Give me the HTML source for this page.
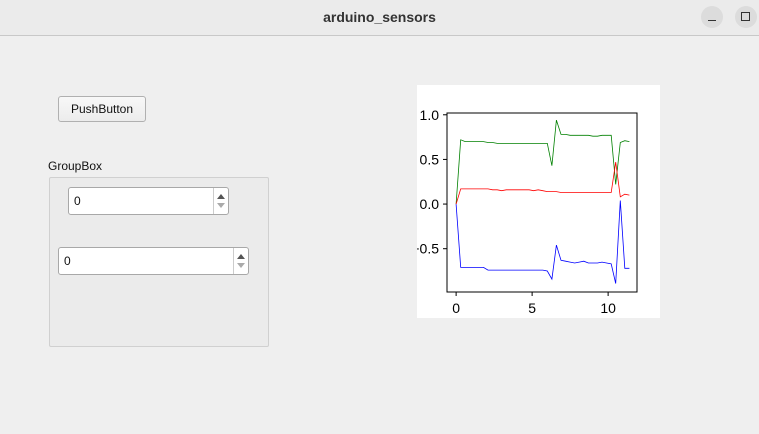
<!DOCTYPE html>
<html><head><meta charset="utf-8">
<style>
body{margin:0;width:759px;height:434px;background:#efefef;font-family:"Liberation Sans","DejaVu Sans",sans-serif;position:relative;overflow:hidden}
.abs{position:absolute}
#titlebar{left:0;top:0;width:759px;height:35px;background:#ebebeb;border-bottom:1px solid #c8c8c8}
#title{left:0;width:759px;top:9px;text-align:center;font-size:14px;font-weight:bold;color:#333}
.wbtn{width:22px;height:22px;border-radius:50%;background:#dcdcdc;top:6px}
#pushbtn{left:58px;top:96px;width:86px;height:24px;border:1px solid #b0b0b0;border-radius:3px;background:linear-gradient(#f8f8f8,#ececec);font-size:12px;text-align:center;line-height:24px;color:#111}
#gblabel{left:48px;top:159px;font-size:12px;color:#111}
#groupbox{left:49px;top:177px;width:218px;height:168px;border:1px solid #d0d0d0;border-radius:2px;background:#ebebeb}
.spin{background:#fff;border:1px solid #a8a8a8;border-radius:3px;height:26px;font-size:12px;color:#111}
.spin .v{position:absolute;left:5px;top:6px}
.spin .arr{position:absolute;right:0;top:0;width:14px;height:26px;border-left:1px solid #ccc}
.up{position:absolute;left:3px;top:6px;width:0;height:0;border-left:4px solid transparent;border-right:4px solid transparent;border-bottom:5px solid #555}
.dn{position:absolute;left:3px;top:15px;width:0;height:0;border-left:4px solid transparent;border-right:4px solid transparent;border-top:5px solid #aaa}
</style></head><body>
<div id="titlebar" class="abs">
 <div id="title" class="abs">arduino_sensors</div>
 <div class="abs wbtn" style="left:701px"><div class="abs" style="left:7px;top:14px;width:8px;height:1px;background:#333"></div></div>
 <div class="abs wbtn" style="left:735px"><div class="abs" style="left:6px;top:6px;width:7px;height:7px;border:1px solid #333"></div></div>
</div>
<div id="pushbtn" class="abs">PushButton</div>
<div id="gblabel" class="abs">GroupBox</div>
<div id="groupbox" class="abs"></div>
<div class="abs spin" style="left:68px;top:187px;width:159px"><span class="v">0</span><div class="arr"><div class="up"></div><div class="dn"></div></div></div>
<div class="abs spin" style="left:58px;top:247px;width:189px"><span class="v">0</span><div class="arr"><div class="up"></div><div class="dn"></div></div></div>
<svg class="abs" style="left:417px;top:85px" width="243" height="233">
 <rect width="243" height="233" fill="#fff"/>
 <g id="plot"></g>
</svg>
<script>
const green=[0,0.72,0.70,0.70,0.70,0.70,0.70,0.69,0.69,0.68,0.68,0.68,0.68,0.68,0.68,0.68,0.68,0.68,0.68,0.68,0.68,0.43,0.94,0.78,0.78,0.77,0.77,0.77,0.77,0.77,0.76,0.76,0.77,0.77,0.77,0.22,0.69,0.71,0.70];
const red=[0,0.17,0.17,0.17,0.17,0.17,0.17,0.17,0.16,0.16,0.15,0.16,0.16,0.16,0.16,0.16,0.16,0.15,0.16,0.15,0.14,0.14,0.14,0.13,0.13,0.13,0.13,0.13,0.13,0.13,0.13,0.13,0.13,0.13,0.13,0.47,0.08,0.11,0.10];
const blue=[0,-0.71,-0.71,-0.71,-0.71,-0.71,-0.71,-0.74,-0.74,-0.74,-0.74,-0.74,-0.74,-0.74,-0.74,-0.74,-0.74,-0.74,-0.74,-0.74,-0.75,-0.84,-0.46,-0.63,-0.64,-0.65,-0.66,-0.65,-0.64,-0.66,-0.66,-0.66,-0.65,-0.66,-0.67,-0.89,0.04,-0.72,-0.72];
const xStep=0.3;
const xTicks=[0,5,10];
const yTicks=[1.0,0.5,0.0,-0.5];
const yTickLabels=["1.0","0.5","0.0","\u22120.5"];
const NS="http://www.w3.org/2000/svg";
const L=30,R=220,T=28,B=207;
const xmin=-0.6,xmax=11.9,ymin=-0.985,ymax=1.02;
const sx=v=>L+(v-xmin)/(xmax-xmin)*(R-L);
const sy=v=>B-(v-ymin)/(ymax-ymin)*(B-T);
const g=document.getElementById('plot');
function mk(t,a){const e=document.createElementNS(NS,t);for(const k in a)e.setAttribute(k,a[k]);g.appendChild(e);return e;}
[[green,'#008000','green-series'],[red,'#ff0000','red-series'],[blue,'#0000ff','blue-series']].forEach(([d,c,n])=>{
 const p=mk('polyline',{points:d.map((v,i)=>sx(i*xStep).toFixed(1)+','+sy(v).toFixed(1)).join(' '),fill:'none',stroke:c,'stroke-width':0.8});
 
 
});
const fr=mk('rect',{x:L,y:T,width:R-L,height:B-T,fill:'none',stroke:'#000','stroke-width':1});


xTicks.forEach(v=>{
 mk('line',{x1:sx(v),x2:sx(v),y1:B,y2:B+4,stroke:'#000'});
 const t=mk('text',{x:sx(v),y:B+21,'text-anchor':'middle','font-size':14,fill:'#000'});
 t.textContent=v;
 
 
});
yTicks.forEach((v,i)=>{
 mk('line',{x1:L-4,x2:L,y1:sy(v),y2:sy(v),stroke:'#000'});
 const t=mk('text',{x:L-8,y:sy(v)+5,'text-anchor':'end','font-size':14,fill:'#000'});
 t.textContent=yTickLabels[i];
 
 
});
</script>
</body></html>
